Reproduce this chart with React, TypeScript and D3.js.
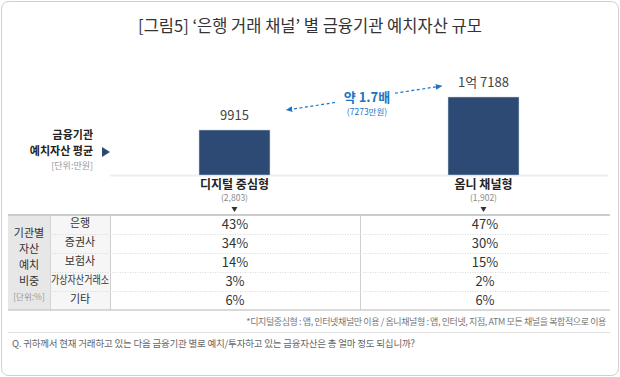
import React from "react";
import * as d3 from "d3";

const categories = ["디지털 중심형", "옴니 채널형"];
const respondents = ["(2,803)", "(1,902)"];
const avgAssets = [9915, 17188];
const avgLabels = ["9915", "1억 7188"];
const institutions = ["은행", "증권사", "보험사", "가상자산거래소", "기타"];
const digitalShare = [43, 34, 14, 3, 6];
const omniShare = [47, 30, 15, 2, 6];
const shareSeries = [digitalShare, omniShare];

const W = 620;
const H = 377;
const FONT = "'Noto Sans CJK KR', 'Noto Sans', sans-serif";
const NAVY = "#2c4a73";
const BLUE = "#1f74c4";

export default function App() {
  const x = d3
    .scaleBand<string>()
    .domain(categories)
    .range([110, 608])
    .paddingInner(0.715)
    .paddingOuter(0.3575);
  const y = d3.scaleLinear().domain([0, 17188]).range([175, 97]);
  const cx = (c: string) => (x(c) as number) + x.bandwidth() / 2;

  const tableTop = 215;
  const rowH = 19;
  const tableBottom = tableTop + rowH * institutions.length;
  const colX = d3.scaleBand<string>().domain(categories).range([110, 610]);
  const rowY = d3
    .scaleBand<string>()
    .domain(institutions)
    .range([tableTop, tableBottom]);

  // annotation arrow
  const ax1 = cx(categories[0]) + 52;
  const ay1 = 110;
  const ax2 = cx(categories[1]) - 42;
  const ay2 = 86;
  const slope = (ay2 - ay1) / (ax2 - ax1);
  const gapL = 335;
  const gapR = 395;

  return (
    <svg
      width={W}
      height={H}
      style={{ position: "absolute", left: 0, top: 0, fontFamily: FONT }}
    >
      <defs>
        <marker
          id="ah"
          viewBox="0 0 10 10"
          refX="8"
          refY="5"
          markerWidth="6"
          markerHeight="6"
          orient="auto-start-reverse"
        >
          <path d="M0,1 L9,5 L0,9 z" fill={BLUE} />
        </marker>
      </defs>
      <rect x={1.5} y={1.5} width={W - 3} height={H - 3} rx={7} fill="#fff" stroke="#cfcfcf" />
      <text x={310} y={28} textAnchor="middle" dominantBaseline="middle" fontSize={16.5} fill="#333">
        [그림5]  ‘은행 거래 채널’ 별 금융기관 예치자산 규모
      </text>

      {/* left label */}
      <text x={93} y={136} textAnchor="end" dominantBaseline="middle" fontSize={11} fontWeight={700} fill="#222">
        금융기관
      </text>
      <text x={93} y={152} textAnchor="end" dominantBaseline="middle" fontSize={11} fontWeight={700} fill="#222">
        예치자산 평균
      </text>
      <text x={93} y={167} textAnchor="end" dominantBaseline="middle" fontSize={9} fill="#999">
        [단위:만원]
      </text>
      <path d="M102,147 L110,152 L102,157 z" fill={NAVY} />

      {/* baseline */}
      <line x1={110} x2={608} y1={175.5} y2={175.5} stroke="#eeeeee" strokeWidth={2} />

      {/* bars */}
      {categories.map((c, i) => (
        <g key={c}>
          <rect
            x={x(c)}
            y={y(avgAssets[i])}
            width={x.bandwidth()}
            height={y(0) - y(avgAssets[i])}
            fill={NAVY}
            stroke="#c9d3e0"
            strokeWidth={0.5}
          />
          <text
            x={cx(c)}
            y={y(avgAssets[i]) - 14}
            textAnchor="middle"
            dominantBaseline="middle"
            fontSize={13}
            fill="#444"
          >
            {avgLabels[i]}
          </text>
          <text x={cx(c)} y={186} textAnchor="middle" dominantBaseline="middle" fontSize={12} fontWeight={700} fill="#222">
            {c}
          </text>
          <text x={cx(c)} y={198.5} textAnchor="middle" dominantBaseline="middle" fontSize={8.5} fill="#888">
            {respondents[i]}
          </text>
          <path
            d={`M${cx(c) - 3},207 L${cx(c) + 3},207 L${cx(c)},212 z`}
            fill="#333"
          />
        </g>
      ))}

      {/* annotation */}
      <line
        x1={gapL}
        y1={ay1 + slope * (gapL - ax1)}
        x2={ax1}
        y2={ay1}
        stroke={BLUE}
        strokeWidth={1.2}
        strokeDasharray="3,2.5"
        markerEnd="url(#ah)"
      />
      <line
        x1={gapR}
        y1={ay1 + slope * (gapR - ax1)}
        x2={ax2}
        y2={ay2}
        stroke={BLUE}
        strokeWidth={1.2}
        strokeDasharray="3,2.5"
        markerEnd="url(#ah)"
      />
      <text x={367} y={98} textAnchor="middle" dominantBaseline="middle" fontSize={13} fontWeight={700} fill={BLUE}>
        약 1.7배
      </text>
      <text x={367} y={113} textAnchor="middle" dominantBaseline="middle" fontSize={8.5} fill={BLUE}>
        (7273만원)
      </text>

      {/* table */}
      <rect x={8} y={tableTop} width={42} height={tableBottom - tableTop} fill="#e7e7e7" />
      <rect x={50} y={tableTop} width={60} height={tableBottom - tableTop} fill="#f6f6f6" />
      <line x1={50.5} x2={50.5} y1={tableTop} y2={tableBottom} stroke="#d6d6d6" />
      <line x1={110.5} x2={110.5} y1={tableTop} y2={tableBottom} stroke="#cfcfcf" />
      <line x1={360.5} x2={360.5} y1={tableTop} y2={tableBottom} stroke="#cfcfcf" />
      {institutions.slice(1).map((inst) => (
        <line
          key={inst}
          x1={50}
          x2={610}
          y1={(rowY(inst) as number) + 0.5}
          y2={(rowY(inst) as number) + 0.5}
          stroke="#d8d8d8"
          strokeDasharray="1,1.5"
        />
      ))}
      <line x1={8} x2={610} y1={tableTop} y2={tableTop} stroke="#cccccc" strokeWidth={2} />
      <line x1={8} x2={610} y1={tableBottom} y2={tableBottom} stroke="#cccccc" strokeWidth={1.5} />

      {["기관별", "자산", "예치", "비중"].map((t, i) => (
        <text key={t} x={29} y={234 + i * 16} textAnchor="middle" dominantBaseline="middle" fontSize={11} fill="#333">
          {t}
        </text>
      ))}
      <text x={29} y={298} textAnchor="middle" dominantBaseline="middle" fontSize={8.5} fill="#999">
        [단위:%]
      </text>

      {institutions.map((inst) => {
        const cyy = (rowY(inst) as number) + rowY.bandwidth() / 2;
        return (
          <text
            key={inst}
            x={80}
            y={cyy}
            textAnchor="middle"
            dominantBaseline="middle"
            fontSize={11}
            fill="#333"
            textLength={inst.length > 4 ? 58 : undefined}
            lengthAdjust="spacingAndGlyphs"
          >
            {inst}
          </text>
        );
      })}
      {categories.map((c, ci) =>
        institutions.map((inst, ri) => (
          <text
            key={c + inst}
            x={(colX(c) as number) + colX.bandwidth() / 2}
            y={(rowY(inst) as number) + rowY.bandwidth() / 2 + 1}
            textAnchor="middle"
            dominantBaseline="middle"
            fontSize={13}
            fill="#333"
          >
            {shareSeries[ci][ri]}%
          </text>
        ))
      )}

      {/* footnotes */}
      <text x={606} y={323} textAnchor="end" dominantBaseline="middle" fontSize={9} fill="#777" letterSpacing={-0.4}>
        *디지털중심형 : 앱, 인터넷채널만 이용 / 옴니채널형 : 앱, 인터넷, 지점, ATM 모든 채널을 복합적으로 이용
      </text>
      <line x1={8} x2={610} y1={332.5} y2={332.5} stroke="#e0e0e0" />
      <text x={12} y={344} dominantBaseline="middle" fontSize={9.5} fill="#666" letterSpacing={-0.2}>
        Q. 귀하께서 현재 거래하고 있는 다음 금융기관 별로 예치/투자하고 있는 금융자산은 총 얼마 정도 되십니까?
      </text>
    </svg>
  );
}
